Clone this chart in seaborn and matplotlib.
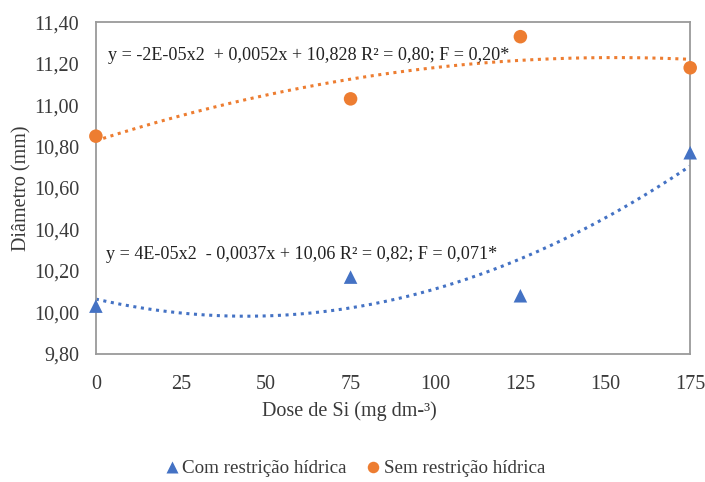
import numpy as np
import pandas as pd
import matplotlib
matplotlib.use("Agg")
import matplotlib.pyplot as plt
import seaborn as sns

# doses de Si (mg dm-3)
doses = [0, 75, 125, 175]
com_restricao = [10.03, 10.17, 10.08, 10.77]
sem_restricao = [10.85, 11.03, 11.33, 11.18]

series_names = ["Com restrição hídrica", "Sem restrição hídrica"]
eq_com = "y = 4E-05x2  - 0,0037x + 10,06 R² = 0,82; F = 0,071*"
eq_sem = "y = -2E-05x2  + 0,0052x + 10,828 R² = 0,80; F = 0,20*"

x_ticks = [0, 25, 50, 75, 100, 125, 150, 175]
y_ticks = [9.80, 10.00, 10.20, 10.40, 10.60, 10.80, 11.00, 11.20, 11.40]

BLUE = "#4472C4"
ORANGE = "#ED7D31"

sns.set_theme(style="white")
plt.rcParams["font.family"] = ["Liberation Serif", "DejaVu Serif"]

df = pd.DataFrame({
    "dose": doses * 2,
    "diam": com_restricao + sem_restricao,
    "grupo": [series_names[0]] * len(doses) + [series_names[1]] * len(doses),
})

fig = plt.figure(figsize=(7.05, 4.82), dpi=100)
ax = fig.add_axes([0.136, 0.266, 0.843, 0.688])

# quadratic trend lines (Excel-style polynomial fit)
xs = np.linspace(0, 175, 200)
for vals, color in [(com_restricao, BLUE), (sem_restricao, ORANGE)]:
    coef = np.polyfit(doses, vals, 2)
    ax.plot(xs, np.polyval(coef, xs), linestyle=(0, (1, 1.5)), color=color,
            linewidth=2.2, zorder=2)

sns.scatterplot(
    data=df, x="dose", y="diam", hue="grupo", style="grupo",
    palette={series_names[0]: BLUE, series_names[1]: ORANGE},
    markers={series_names[0]: "^", series_names[1]: "o"},
    s=95, edgecolor="none", ax=ax, zorder=3, clip_on=False, legend=True,
)

ax.set_xlim(0, 175)
ax.set_ylim(9.80, 11.40)
ax.set_xticks(x_ticks)
ax.set_yticks(y_ticks)
ax.set_yticklabels([f"{v:.2f}".replace(".", ",") for v in y_ticks])
ax.tick_params(axis="both", length=0, labelsize=14.5, colors="#3a3a3a")
ax.tick_params(axis="x", pad=15)
ax.tick_params(axis="y", pad=12)
for sp in ax.spines.values():
    sp.set_color("#9a9a9a")
    sp.set_linewidth(1.3)

# axis title centred on the chart area (not the plot area), like the original
ax.set_xlabel("Dose de Si (mg dm-³)", fontsize=14.5, color="#3a3a3a")
ax.xaxis.set_label_coords(0.426, -0.143)
ax.set_ylabel("Diâmetro (mm)", fontsize=14.5, color="#3a3a3a", labelpad=2)

ax.text(0.021, 0.90, eq_sem, transform=ax.transAxes, fontsize=13.1,
        color="#222222", va="center", ha="left")
ax.text(0.017, 0.298, eq_com, transform=ax.transAxes, fontsize=13.1,
        color="#222222", va="center", ha="left")

handles, labels = ax.get_legend_handles_labels()
ax.legend_.remove()
fig.legend(handles, labels, loc="center", bbox_to_anchor=(0.503, 0.028),
           ncol=2, frameon=False, fontsize=13.7, handletextpad=0.15,
           handlelength=0.8, columnspacing=1.0, markerscale=0.85,
           labelcolor="#3a3a3a")

fig.savefig("out.png", dpi=100)
